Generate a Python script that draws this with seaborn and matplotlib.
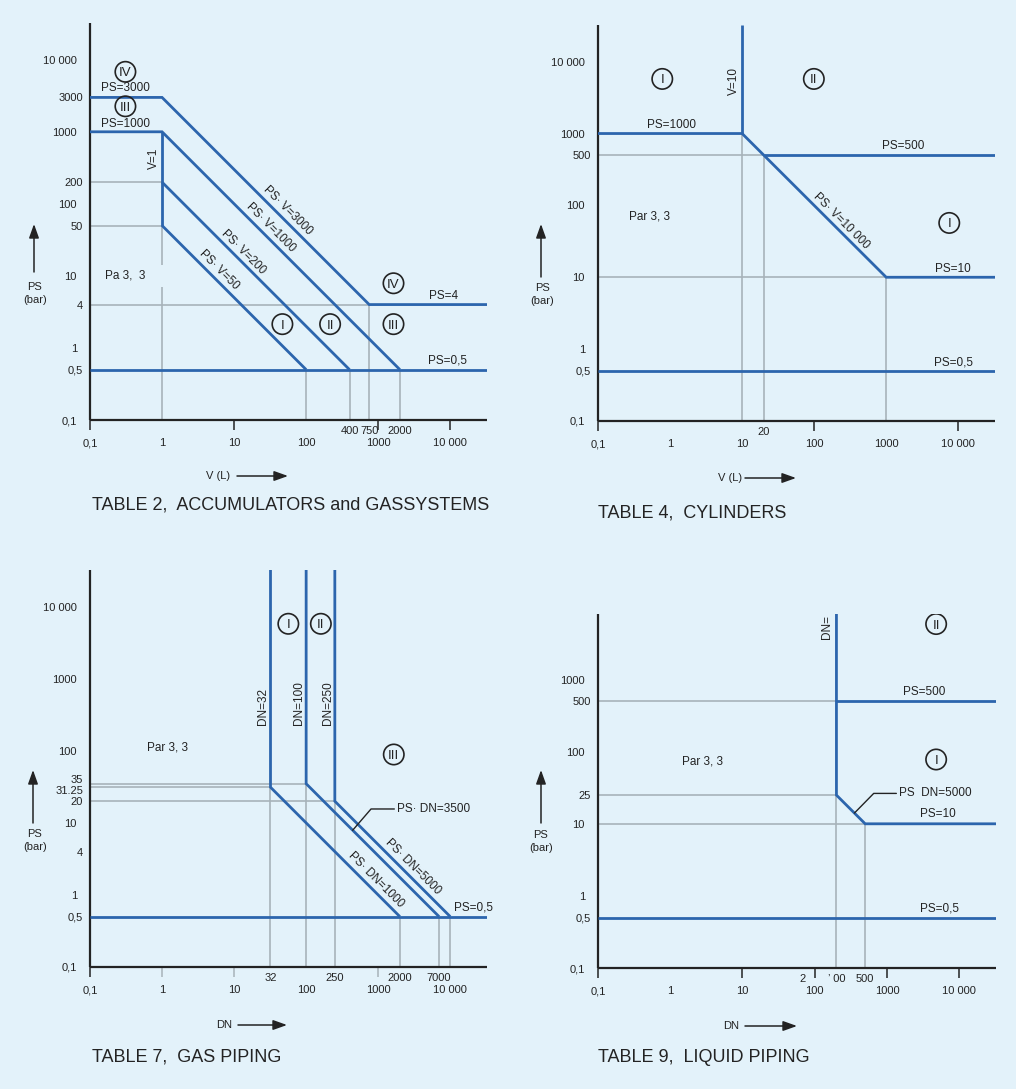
import matplotlib
matplotlib.use("Agg")
import matplotlib.pyplot as plt
from matplotlib.transforms import blended_transform_factory
import seaborn as sns

# ---------------- chart limits (log-log, 0.1 at the origin) ----------------
X_END = 10 ** 4.51
Y_END = 10 ** 4.51
Y_END_T9 = 10 ** 3.91

DECADES = [0.1, 1, 10, 100, 1000, 10000]

# ---------------- TABLE 2, accumulators and gas systems ----------------
t2_ps3000_v = [0.1, 1, 750, X_END]
t2_ps3000_ps = [3000, 3000, 4, 4]
t2_ps1000_v = [0.1, 1, 2000]
t2_ps1000_ps = [1000, 1000, 0.5]
t2_v1_v = [1, 1]
t2_v1_ps = [1000, 50]
t2_pv200_v = [1, 400]
t2_pv200_ps = [200, 0.5]
t2_pv50_v = [1, 100]
t2_pv50_ps = [50, 0.5]
t2_ps05_v = [0.1, X_END]
t2_ps05_ps = [0.5, 0.5]
t2_guide_h_ps = [200, 50, 4]
t2_guide_h_to = [1, 1, 750]
t2_guide_v_v = [1, 1, 100, 400, 750, 2000]
t2_guide_v_from = [0.1, 14, 0.1, 0.1, 0.1, 0.1]
t2_guide_v_to = [7.1, 50, 0.5, 0.5, 4, 0.5]
t2_yticks = [0.1, 1, 10, 100, 1000, 10000]
t2_yticks_extra = [0.5, 4, 50, 200, 3000]
t2_xticks_extra = [400, 750, 2000]
t2_xtick_marks = [0.1, 10, 1000, 10000]
t2_notes = [
    (0.31, 4000, "PS=3000", 0), (0.31, 1270, "PS=1000", 0),
    (0.76, 430, "V=1", 90), (0.31, 10, "Pa 3,  3", 0),
    (55, 82, "PS\u00b7 V=3000", -45), (32, 47, "PS\u00b7 V=1000", -45),
    (13.6, 21.6, "PS\u00b7 V=200", -45), (6.1, 12, "PS\u00b7 V=50", -45),
    (8070, 5.25, "PS=4", 0), (9300, 0.665, "PS=0,5", 0),
]
t2_classes = [(0.31, 6800, "IV"), (0.31, 2260, "III"), (46.8, 2.14, "I"),
              (215, 2.14, "II"), (1630, 7.9, "IV"), (1630, 2.14, "III")]

# ---------------- TABLE 4, cylinders ----------------
t4_ps1000_v = [0.1, 10, 1000, X_END]
t4_ps1000_ps = [1000, 1000, 10, 10]
t4_v10_v = [10, 10]
t4_v10_ps = [1000, Y_END]
t4_ps500_v = [20, X_END]
t4_ps500_ps = [500, 500]
t4_ps05_v = [0.1, X_END]
t4_ps05_ps = [0.5, 0.5]
t4_guide_h_ps = [500, 10]
t4_guide_h_to = [20, 1000]
t4_guide_v_v = [10, 20, 1000]
t4_guide_v_from = [0.1, 0.1, 0.1]
t4_guide_v_to = [1000, 500, 10]
t4_yticks = [0.1, 1, 10, 100, 1000, 10000]
t4_yticks_extra = [0.5, 500]
t4_xticks_extra = [20]
t4_xtick_marks = [0.1, 100, 10000]
t4_notes = [
    (1.04, 1320, "PS=1000", 0), (7.7, 5440, "V=10", 90),
    (1720, 660, "PS=500", 0), (0.52, 71, "Par 3, 3", 0),
    (240, 61.6, "PS\u00b7 V=10 000", -45), (8300, 13.2, "PS=10", 0),
    (8700, 0.653, "PS=0,5", 0),
]
t4_classes = [(0.78, 5750, "I"), (99, 5750, "II"), (7500, 57, "I")]

# ---------------- TABLE 7, gas piping ----------------
t7_dn32_dn = [32, 32, 2000]
t7_dn32_ps = [Y_END, 31.25, 0.5]
t7_dn100_dn = [100, 100, 7000]
t7_dn100_ps = [Y_END, 35, 0.5]
t7_dn250_dn = [250, 250, 10000]
t7_dn250_ps = [Y_END, 20, 0.5]
t7_ps05_dn = [0.1, X_END]
t7_ps05_ps = [0.5, 0.5]
t7_guide_h_ps = [35, 31.25, 20]
t7_guide_h_to = [100, 32, 250]
t7_guide_v_dn = [32, 100, 250, 2000, 7000, 10000]
t7_guide_v_from = [0.1, 0.1, 0.1, 0.1, 0.1, 0.1]
t7_guide_v_to = [31.25, 35, 20, 0.5, 0.5, 0.5]
t7_yticks = [0.1, 1, 10, 100, 1000, 10000]
t7_yticks_extra = [0.5, 4, 20]
t7_xticks_extra = [32, 250, 2000, 7000]
t7_xtick_marks = [1, 10, 1000]
t7_notes = [
    (25, 417, "DN=32", 90), (79.5, 454, "DN=100", 90),
    (198, 454, "DN=250", 90), (1.19, 112, "Par 3, 3", 0),
    (3020, 2.5, "PS\u00b7 DN=5000", -45), (930, 1.63, "PS\u00b7 DN=1000", -45),
    (20700, 0.66, "PS=0,5", 0),
]
t7_classes = [(56.6, 5800, "I"), (160, 5800, "II"), (1645, 89, "III")]
t7_leader_dn = [442, 795, 1675]
t7_leader_ps = [7.9, 15.6, 15.6]
t7_leader_text = "PS\u00b7 DN=3500"

# ---------------- TABLE 9, liquid piping ----------------
t9_dn200_dn = [200, 200, 500, X_END]
t9_dn200_ps = [Y_END_T9, 25, 10, 10]
t9_ps500_dn = [200, X_END]
t9_ps500_ps = [500, 500]
t9_ps05_dn = [0.1, X_END]
t9_ps05_ps = [0.5, 0.5]
t9_guide_h_ps = [500, 25, 10]
t9_guide_h_to = [200, 200, 500]
t9_guide_v_dn = [200, 500]
t9_guide_v_from = [0.1, 0.1]
t9_guide_v_to = [25, 10]
t9_yticks = [0.1, 1, 10, 100, 1000]
t9_yticks_extra = [0.5, 25, 500]
t9_xticks_extra = [67, 200, 500]
t9_xticks_extra_labels = ["2", "\u2019 00", "500"]
t9_xtick_marks = [0.1, 10, 100, 1000, 10000]
t9_notes = [
    (148, 5300, "DN=", 90), (3240, 670, "PS=500", 0),
    (2.76, 72, "Par 3, 3", 0), (5000, 13.5, "PS=10", 0),
    (5330, 0.66, "PS=0,5", 0),
]
t9_classes = [(4800, 5900, "II"), (4800, 78, "I")]
t9_leader_dn = [355, 656, 1350]
t9_leader_ps = [14.1, 26.4, 26.4]
t9_leader_text = "PS  DN=5000"

# ---------------- style ----------------
BG = "#e3f2fa"
BLUE = "#2c65ad"
GUIDE = "#a7b3ba"
INK = "#232323"
W, H = 1016, 1089
TICK_FS = 8.0
NOTE_FS = 8.5

sns.set_theme(style="white")
plt.rcParams["font.family"] = ["Liberation Sans", "DejaVu Sans"]
plt.rcParams["text.color"] = INK

fig = plt.figure(figsize=(W / 100, H / 100), dpi=100, facecolor=BG)


def num_label(v):
    special = {0.1: "0,1", 0.5: "0,5", 10000: "10 000", 31.25: "31.25"}
    return special.get(v, f"{v:g}")


def make_axes(box, y_end, yticks, yextra, xextra, xextra_labels=None,
              marks=(), mark_color=INK):
    x0, y0, x1, y1 = box
    ax = fig.add_axes([x0 / W, 1 - y1 / H, (x1 - x0) / W, (y1 - y0) / H])
    ax.set_xscale("log")
    ax.set_yscale("log")
    ax.set_xlim(0.1, X_END)
    ax.set_ylim(0.1, y_end)
    ax.set_facecolor("none")
    for s in ("top", "right"):
        ax.spines[s].set_visible(False)
    for s in ("left", "bottom"):
        ax.spines[s].set_linewidth(1.6)
        ax.spines[s].set_color(INK)
        ax.spines[s].set_capstyle("butt")
    ax.set_xticks(DECADES, labels=[num_label(v) for v in DECADES])
    if xextra_labels is None:
        xextra_labels = [num_label(v) for v in xextra]
    ax.set_xticks(xextra, labels=xextra_labels, minor=True)
    ax.set_yticks(yticks, labels=[num_label(v) for v in yticks])
    ax.set_yticks(yextra, labels=[num_label(v) for v in yextra], minor=True)
    ax.tick_params(axis="x", which="major", length=0, pad=13.0,
                   labelsize=TICK_FS, labelcolor=INK)
    ax.tick_params(axis="x", which="minor", length=0, pad=4.0,
                   labelsize=TICK_FS, labelcolor=INK)
    ax.tick_params(axis="y", which="major", length=8.6, width=1.0, color=INK,
                   pad=0.8, labelsize=TICK_FS, labelcolor=INK)
    ax.tick_params(axis="y", which="minor", length=0, pad=5.0,
                   labelsize=TICK_FS, labelcolor=INK)
    # short tick marks below the V / DN axis
    trans = blended_transform_factory(ax.transData, ax.transAxes)
    frac = 10 / (y1 - y0)
    for m in marks:
        col = INK if m == 0.1 else mark_color
        ax.plot([m, m], [0, -frac], transform=trans, color=col, lw=1.1,
                clip_on=False, solid_capstyle="butt")
    return ax


def boundary(ax, xs, ys):
    sns.lineplot(x=xs, y=ys, ax=ax, sort=False, estimator=None, color=BLUE,
                 lw=2.0, solid_joinstyle="miter", solid_capstyle="butt",
                 zorder=4)


def guides(ax, h_vals, h_to, v_vals, v_from, v_to):
    ax.hlines(h_vals, 0.1, h_to, colors=GUIDE, lw=1.2, zorder=2)
    ax.vlines(v_vals, v_from, v_to, colors=GUIDE, lw=1.2, zorder=2)


def notes(ax, items):
    for x, y, txt, rot in items:
        ax.text(x, y, txt, fontsize=NOTE_FS, rotation=rot,
                rotation_mode="anchor", ha="center", va="center", color=INK,
                zorder=6)


def classes(ax, items):
    xs = [c[0] for c in items]
    ys = [c[1] for c in items]
    ax.scatter(xs, ys, s=215, facecolors="none", edgecolors=INK,
               linewidths=1.2, zorder=6)
    for x, y, r in items:
        ax.text(x, y, r, fontsize=9.5, ha="center", va="center_baseline",
                color=INK, zorder=7)


def leader(ax, xs, ys, text):
    ax.plot(xs, ys, color=INK, lw=1.0, zorder=6)
    ax.text(xs[-1] * 1.08, ys[-1], text, fontsize=NOTE_FS, ha="left",
            va="center", color=INK, zorder=6)


def arrow(p0, p1):
    fig.add_artist(plt.Annotation(
        "", xy=(p1[0] / W, 1 - p1[1] / H), xytext=(p0[0] / W, 1 - p0[1] / H),
        xycoords="figure fraction", textcoords="figure fraction",
        arrowprops=dict(arrowstyle="-|>,head_length=0.7,head_width=0.25",
                        color=INK, lw=1.1, shrinkA=0, shrinkB=0)))


def axis_names(x_name, x_name_xy, x_arrow, y_label_xy, y_arrow):
    fx, fy = x_name_xy
    fig.text(fx / W, 1 - fy / H, x_name, fontsize=TICK_FS, ha="center",
             va="center", color=INK)
    arrow(*x_arrow)
    lx, ly = y_label_xy
    fig.text(lx / W, 1 - ly / H, "PS", fontsize=TICK_FS, ha="center",
             va="center", color=INK)
    fig.text(lx / W, 1 - (ly + 13) / H, "(bar)", fontsize=TICK_FS,
             ha="center", va="center", color=INK)
    arrow(*y_arrow)


def title(x, y, txt):
    fig.text(x / W, 1 - y / H, txt, fontsize=13, ha="left", va="center",
             color=INK)


# ---------------- TABLE 2 ----------------
ax2 = make_axes((90, 23, 487, 420), Y_END, t2_yticks, t2_yticks_extra,
                t2_xticks_extra, marks=t2_xtick_marks)
guides(ax2, t2_guide_h_ps, t2_guide_h_to, t2_guide_v_v, t2_guide_v_from,
       t2_guide_v_to)
for xs, ys in [(t2_ps3000_v, t2_ps3000_ps), (t2_ps1000_v, t2_ps1000_ps),
               (t2_v1_v, t2_v1_ps), (t2_pv200_v, t2_pv200_ps),
               (t2_pv50_v, t2_pv50_ps), (t2_ps05_v, t2_ps05_ps)]:
    boundary(ax2, xs, ys)
notes(ax2, t2_notes)
classes(ax2, t2_classes)
axis_names("V (L)", (218, 476), ((237, 476), (288, 476)),
           (35, 287), ((34, 272), (34, 224)))
title(92, 505, "TABLE 2,  ACCUMULATORS and GASSYSTEMS")

# ---------------- TABLE 4 ----------------
ax4 = make_axes((598, 25, 995, 421), Y_END, t4_yticks, t4_yticks_extra,
                t4_xticks_extra, marks=t4_xtick_marks)
guides(ax4, t4_guide_h_ps, t4_guide_h_to, t4_guide_v_v, t4_guide_v_from,
       t4_guide_v_to)
for xs, ys in [(t4_ps1000_v, t4_ps1000_ps), (t4_v10_v, t4_v10_ps),
               (t4_ps500_v, t4_ps500_ps), (t4_ps05_v, t4_ps05_ps)]:
    boundary(ax4, xs, ys)
notes(ax4, t4_notes)
classes(ax4, t4_classes)
axis_names("V (L)", (730, 478), ((745, 478), (796, 478)),
           (542, 288), ((541, 277), (541, 224)))
title(598, 513, "TABLE 4,  CYLINDERS")

# ---------------- TABLE 7 ----------------
ax7 = make_axes((90, 570, 487, 967), Y_END, t7_yticks, t7_yticks_extra,
                t7_xticks_extra, marks=[0.1] + t7_xtick_marks,
                mark_color=GUIDE)
guides(ax7, t7_guide_h_ps, t7_guide_h_to, t7_guide_v_dn, t7_guide_v_from,
       t7_guide_v_to)
for xs, ys in [(t7_dn32_dn, t7_dn32_ps), (t7_dn100_dn, t7_dn100_ps),
               (t7_dn250_dn, t7_dn250_ps), (t7_ps05_dn, t7_ps05_ps)]:
    boundary(ax7, xs, ys)
notes(ax7, t7_notes)
classes(ax7, t7_classes)
leader(ax7, t7_leader_dn, t7_leader_ps, t7_leader_text)
# the two close pressure values get their own labels, spread apart
ytr = blended_transform_factory(ax7.transAxes, ax7.transData)
for val, dy in [(35, 4), (31.25, -4)]:
    ax7.annotate(num_label(val), xy=(0, val), xycoords=ytr,
                 xytext=(-7, dy), textcoords="offset pixels",
                 fontsize=TICK_FS, ha="right", va="center", color=INK,
                 annotation_clip=False)
axis_names("DN", (224, 1025), ((238, 1025), (287, 1025)),
           (35, 834), ((33, 823), (33, 770)))
title(92, 1057, "TABLE 7,  GAS PIPING")

# ---------------- TABLE 9 ----------------
ax9 = make_axes((598, 614, 996, 968), Y_END_T9, t9_yticks, t9_yticks_extra,
                t9_xticks_extra, xextra_labels=t9_xticks_extra_labels,
                marks=t9_xtick_marks)
guides(ax9, t9_guide_h_ps, t9_guide_h_to, t9_guide_v_dn, t9_guide_v_from,
       t9_guide_v_to)
for xs, ys in [(t9_dn200_dn, t9_dn200_ps), (t9_ps500_dn, t9_ps500_ps),
               (t9_ps05_dn, t9_ps05_ps)]:
    boundary(ax9, xs, ys)
notes(ax9, t9_notes)
classes(ax9, t9_classes)
leader(ax9, t9_leader_dn, t9_leader_ps, t9_leader_text)
axis_names("DN", (731, 1026), ((745, 1026), (797, 1026)),
           (541, 835), ((541, 823), (541, 770)))
title(598, 1057, "TABLE 9,  LIQUID PIPING")

fig.savefig("out.png", dpi=100, facecolor=BG)
